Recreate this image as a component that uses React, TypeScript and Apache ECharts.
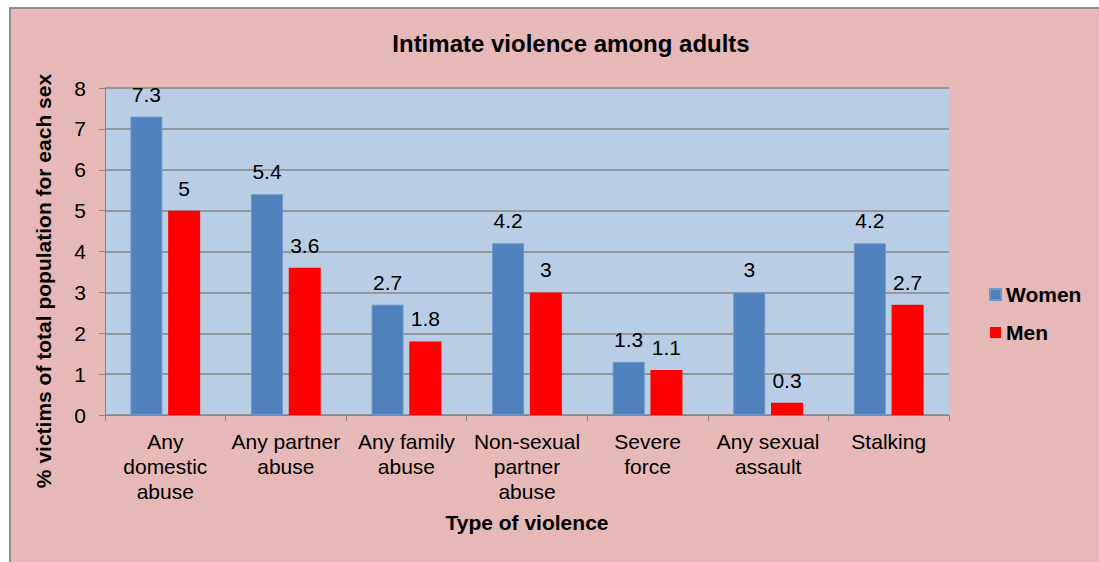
import React, { useEffect, useRef } from "react";
import * as echarts from "echarts";

const categories = [
  "Any\ndomestic\nabuse",
  "Any partner\nabuse",
  "Any family\nabuse",
  "Non-sexual\npartner\nabuse",
  "Severe\nforce",
  "Any sexual\nassault",
  "Stalking",
];
const women = [7.3, 5.4, 2.7, 4.2, 1.3, 3, 4.2];
const men = [5, 3.6, 1.8, 3, 1.1, 0.3, 2.7];
const yTicks = [0, 1, 2, 3, 4, 5, 6, 7, 8];

const FONT = "'Liberation Sans', Arial, sans-serif";

export default function App() {
  const ref = useRef<HTMLDivElement>(null);
  useEffect(() => {
    if (!ref.current) return;
    const chart = echarts.init(ref.current, null, { renderer: "svg" });
    const label = {
      show: true,
      position: "top",
      distance: 12,
      fontSize: 21,
      fontFamily: FONT,
      color: "#000",
    };
    chart.setOption({
      animation: false,
      textStyle: { fontFamily: FONT },
      graphic: [
        {
          type: "rect",
          z: -100,
          silent: true,
          shape: { x: 10, y: 8, width: 1300, height: 800 },
          style: { fill: "#E6B8B7", stroke: "#8C8C8C", lineWidth: 2 },
        },
        {
          type: "text",
          x: 571,
          y: 43,
          style: {
            text: "Intimate violence among adults",
            fontSize: 24,
            fontWeight: "bold",
            fontFamily: FONT,
            fill: "#000",
            align: "center",
            verticalAlign: "middle",
          },
        },
        {
          type: "text",
          x: 43,
          y: 281,
          rotation: Math.PI / 2,
          style: {
            text: "% victims of total population for each sex",
            fontSize: 21,
            fontWeight: "bold",
            fontFamily: FONT,
            fill: "#000",
            align: "center",
            verticalAlign: "middle",
          },
        },
      ],
      grid: {
        left: 105,
        right: 150,
        top: 88,
        height: 327,
        show: true,
        backgroundColor: "#B9CDE5",
        borderWidth: 0,
      },
      legend: {
        orient: "vertical",
        left: 984,
        top: 279,
        itemWidth: 11,
        itemHeight: 11,
        itemGap: 17,
        icon: "rect",
        textStyle: { fontSize: 21, fontWeight: "bold", fontFamily: FONT, color: "#000" },
        data: ["Women", "Men"],
      },
      xAxis: {
        type: "category",
        data: categories,
        name: "Type of violence",
        nameLocation: "middle",
        nameGap: 97,
        nameTextStyle: { fontSize: 21, fontWeight: "bold", fontFamily: FONT, color: "#000" },
        axisLine: { lineStyle: { color: "#868686", width: 1 } },
        axisTick: { show: true, length: 6, lineStyle: { color: "#868686" } },
        axisLabel: {
          fontSize: 21,
          fontFamily: FONT,
          color: "#000",
          lineHeight: 25,
          margin: 14,
          interval: 0,
        },
      },
      yAxis: {
        type: "value",
        min: 0,
        max: 8,
        interval: 1,
        axisLine: { show: true, lineStyle: { color: "#868686", width: 1 } },
        axisTick: { show: true, length: 6, lineStyle: { color: "#868686" } },
        axisLabel: {
          fontSize: 21,
          fontFamily: FONT,
          color: "#000",
          margin: 19,
          formatter: (v: number) => (yTicks.includes(v) ? String(v) : ""),
        },
        splitLine: { show: true, lineStyle: { color: "#868686", width: 1.5 } },
      },
      series: [
        {
          name: "Women",
          type: "bar",
          data: women,
          barWidth: 32,
          barGap: "18%",
          itemStyle: { color: "#4F81BD", borderColor: "#6F97C9", borderWidth: 1 },
          label,
        },
        {
          name: "Men",
          type: "bar",
          data: men,
          barWidth: 32,
          itemStyle: { color: "#FF0000" },
          label,
        },
      ],
    });
    return () => chart.dispose();
  }, []);
  return (
    <div
      ref={ref}
      style={{ position: "absolute", left: 0, top: 0, width: 1099, height: 562 }}
    />
  );
}
